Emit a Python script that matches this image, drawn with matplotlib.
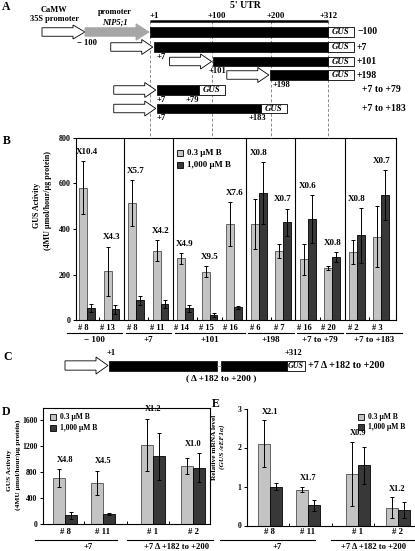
import numpy as np
import matplotlib
matplotlib.use("Agg")
import matplotlib.pyplot as plt
from matplotlib.patches import Rectangle, Polygon
import matplotlib.transforms as mtransforms

plt.rcParams['font.family'] = ['Liberation Serif', 'DejaVu Serif']
plt.rcParams['font.weight'] = 'bold'
plt.rcParams['axes.linewidth'] = 0.8

# ---------------- data ----------------
legend_labels = ['0.3 \u03bcM B', '1,000 \u03bcM B']

# Panel A constructs (nucleotide positions of the 5' UTR)
a_ruler = [1, 100, 200, 312]
a_names = ['\u2212100', '+7', '+101', '+198', '+7 to +79', '+7 to +183']
a_start = [1, 7, 101, 198, 7, 7]
a_end = [312, 312, 312, 312, 79, 183]

# Panel B
b_lines = ['# 8', '# 13', '# 8', '# 11', '# 14', '# 15', '# 16', '# 6', '# 7', '# 16', '# 20', '# 2', '# 3']
b_groups = ['\u2212 100', '+7', '+101', '+198', '+7 to +79', '+7 to +183']
b_group_sizes = [2, 2, 3, 2, 2, 2]
b_low = [582, 215, 514, 304, 271, 213, 422, 422, 304, 267, 227, 298, 366]
b_low_err = [116, 108, 100, 46, 23, 23, 97, 111, 30, 68, 9, 53, 135]
b_high = [52, 48, 86, 70, 52, 22, 55, 560, 430, 444, 276, 372, 548]
b_high_err = [18, 20, 21, 17, 15, 10, 8, 136, 60, 106, 22, 120, 110]
b_ratio = ['X10.4', 'X4.3', 'X5.7', 'X4.2', 'X4.9', 'X9.5', 'X7.6', 'X0.8', 'X0.7', 'X0.6', 'X0.8', 'X0.8', 'X0.7']
b_yticks = [0, 200, 400, 600, 800]

# Panels D / E
de_lines = ['# 8', '# 11', '# 1', '# 2']
de_groups = ['+7', '+7 \u0394 +182 to +200']
d_low = [705, 635, 1220, 895]
d_low_err = [140, 190, 405, 127]
d_high = [135, 150, 1045, 870]
d_high_err = [55, 15, 365, 220]
d_ratio = ['X4.8', 'X4.5', 'X1.2', 'X1.0']
d_yticks = [0, 400, 800, 1200, 1600]

e_low = [2.1, 0.92, 1.32, 0.46]
e_low_err = [0.6, 0.07, 0.82, 0.26]
e_high = [1.0, 0.52, 1.54, 0.39]
e_high_err = [0.09, 0.14, 0.47, 0.2]
e_ratio = ['X2.1', 'X1.7', 'X0.9', 'X1.2']
e_yticks = [0, 1, 2, 3]

GRAY = '#c3c3c3'
DARK = '#383838'

# ---------------- figure ----------------
W, H = 415, 551
fig = plt.figure(figsize=(W / 100, H / 100), dpi=100)


def add_ax(x0, y0, x1, y1):
    return fig.add_axes([x0 / W, 1 - y1 / H, (x1 - x0) / W, (y1 - y0) / H])


ov = fig.add_axes([0, 0, 1, 1])
ov.set_xlim(0, W)
ov.set_ylim(H, 0)
ov.axis('off')
ov.set_zorder(5)
ov.patch.set_alpha(0)


def arrow(x0, x1, yc, bh, hh, hl, fc, ec='black', lw=0.6):
    pts = [(x0, yc - bh / 2), (x1 - hl, yc - bh / 2), (x1 - hl, yc - hh / 2), (x1, yc),
           (x1 - hl, yc + hh / 2), (x1 - hl, yc + bh / 2), (x0, yc + bh / 2)]
    ov.add_patch(Polygon(pts, closed=True, fc=fc, ec=ec, lw=lw, joinstyle='miter'))


def gus_box(x0, w, yc, h, fs):
    ov.add_patch(Rectangle((x0, yc - h / 2), w, h, fc='white', ec='black', lw=0.6))
    ov.text(x0 + w / 2, yc + 0.3, 'GUS', ha='center', va='center', fontsize=fs, style='italic')


def nt2px(v):
    return np.interp(v, a_ruler, [150, 212, 271, 328])


# ---------------- Panel A ----------------
ov.text(6, 7, 'A', ha='center', va='center', fontsize=8.5)
ov.text(245, 5, "5' UTR", ha='center', va='center', fontsize=7)
ov.text(54, 10, 'CaMW', ha='center', va='center', fontsize=6)
ov.text(54, 19, '35S promoter', ha='center', va='center', fontsize=6)
ov.text(115, 12, 'promoter', ha='center', va='center', fontsize=6)
ov.text(115, 22.5, 'NIP5;1', ha='center', va='center', fontsize=6, style='italic')

rx = nt2px(a_ruler)
ov.plot([rx[0], rx[-1]], [21, 21], color='black', lw=1.8, solid_capstyle='butt')
for x, v, dx in zip(rx, a_ruler, [4, 5, 5, 1]):
    ov.text(x + dx, 15.5, '+%d' % v, ha='center', va='center', fontsize=6.3)
    ov.plot([x, x], [21, 138], color='#8a8a8a', lw=0.7, dashes=(3, 2), zorder=0)

row_y = [32, 47, 61.5, 75, 90, 108.5]
bar_h = 9.5
for i, (nm, s, e, yc) in enumerate(zip(a_names, a_start, a_end, row_y)):
    x0 = nt2px(s) + (3 if i >= 4 else 0)
    x1 = nt2px(e)
    if i == 0:
        arrow(42, 85, yc, 8.5, 14, 12, 'white')
        arrow(85, x0 - 1, yc, 8.5, 16.5, 13, '#a6a6a6', ec='#a6a6a6')
    else:
        arrow(x0 - 43, x0 - 1, yc, 8.5, 15, 11, 'white')
    ov.add_patch(Rectangle((x0, yc - bar_h / 2), x1 - x0, bar_h, fc='black', ec='black', lw=0.5))
    gus_box(x1, 26, yc, bar_h, 6.3)
    ov.text(357 if i < 4 else 362, yc, nm, ha='left', va='center', fontsize=7)

# position markers under the rows
mk = 6.2
ov.text(87, 43, '\u2212 100', ha='center', va='center', fontsize=mk)
ov.text(161, 57, '+7', ha='center', va='center', fontsize=mk)
ov.text(217, 71, '+101', ha='center', va='center', fontsize=mk)
ov.text(281, 85, '+198', ha='center', va='center', fontsize=mk)
ov.text(161, 100, '+7', ha='center', va='center', fontsize=mk)
ov.text(192, 100, '+79', ha='center', va='center', fontsize=mk)
ov.text(161, 118, '+7', ha='center', va='center', fontsize=mk)
ov.text(257, 118, '+183', ha='center', va='center', fontsize=mk)

ek = dict(elinewidth=0.7, capsize=1.6, capthick=0.7, ecolor='black')


def draw_bars(ax, pos, low, lerr, high, herr, bw):
    ax.bar(pos - bw / 2, low, bw, yerr=lerr, color=GRAY, edgecolor='#505050', linewidth=0.6,
           error_kw=ek, zorder=2)
    ax.bar(pos + bw / 2, high, bw, yerr=herr, color=DARK, edgecolor='black', linewidth=0.6,
           error_kw=ek, zorder=2)


def legend(x, y1, y2, fs):
    for yc, col, lab in zip((y1, y2), (GRAY, DARK), legend_labels):
        ov.add_patch(Rectangle((x, yc - 3.2), 6.4, 6.4, fc=col, ec='black', lw=0.6))
        ov.text(x + 10, yc, lab, ha='left', va='center', fontsize=fs)


# ---------------- Panel B ----------------
ov.text(7, 141, 'B', ha='center', va='center', fontsize=8.5)
axB = add_ax(76, 138, 396, 320)
xs = np.arange(len(b_lines), dtype=float)
draw_bars(axB, xs, b_low, b_low_err, b_high, b_high_err, 0.32)
axB.set_xlim(-0.45, 12.6)
axB.set_ylim(0, 800)
axB.set_yticks(b_yticks)
axB.tick_params(axis='y', direction='out', length=2.5, width=0.7, labelsize=5.8, pad=1.5)
edges = np.concatenate([[-0.5], np.cumsum(b_group_sizes) - 0.5])
for b in edges[1:-1]:
    axB.axvline(b, color='black', lw=0.8, zorder=3)
inner = [i + 0.5 for i in range(len(b_lines) - 1) if (i + 0.5) not in edges]
axB.set_xticks(inner)
axB.tick_params(axis='x', direction='in', length=2.5, width=0.7, labelbottom=False)
topsB = np.maximum(np.add(b_low, b_low_err), np.add(b_high, b_high_err))
for x, t, r in zip(xs, topsB, b_ratio):
    axB.text(x, t + 40, r, ha='center', va='center', fontsize=6.5)
legend(177, 153, 165, 6.3)
ov.text(37, 205, 'GUS Activity', rotation=90, ha='center', va='center', fontsize=5.8)
ov.text(48, 200, '(4MU \u03bcmol/hour/\u03bcg protein)', rotation=90, ha='center', va='center', fontsize=5.8)

tB = mtransforms.blended_transform_factory(axB.transData, ov.transData)
for x, lab in zip(xs, b_lines):
    ov.text(x - 0.15, 327.5, lab, transform=tB, ha='center', va='center', fontsize=6)
for i, g in enumerate(b_groups):
    a = edges[i] + 0.07 if i > 0 else -0.8
    b = edges[i + 1] - 0.07 if i < len(b_groups) - 1 else 12.85
    ov.plot([a, b], [333.3, 333.3], color='black', lw=0.8, transform=tB)
    ov.text((a + b) / 2, 340.5, g, transform=tB, ha='center', va='center', fontsize=6.5)

# ---------------- Panel C ----------------
ov.text(8, 357, 'C', ha='center', va='center', fontsize=8.5)
cy = 365.5
arrow(65, 108, cy, 9.3, 17, 12, 'white')
ov.plot([217, 221], [cy, cy], color='#999999', lw=0.6)
ov.add_patch(Rectangle((109, cy - 5), 108, 10, fc='black', ec='black', lw=0.5))
ov.add_patch(Rectangle((221, cy - 5), 66, 10, fc='black', ec='black', lw=0.5))
gus_box(287, 18, cy, 10, 5.8)
ov.text(111, 353, '+1', ha='center', va='center', fontsize=6.2)
ov.text(293, 353, '+312', ha='center', va='center', fontsize=6.2)
ov.text(308, 365, '+7 \u0394 +182 to +200', ha='left', va='center', fontsize=7.3)
ov.text(221, 378.5, '( \u0394 +182 to +200 )', ha='center', va='center', fontsize=6.8)

# ---------------- Panels D and E ----------------
pos = np.array([0.0, 0.95, 2.2, 3.2])
inner_de = [0.47, 1.55, 2.6]

# D
ov.text(6, 412, 'D', ha='center', va='center', fontsize=8.5)
axD = add_ax(43, 408, 210, 524)
draw_bars(axD, pos, d_low, d_low_err, d_high, d_high_err, 0.3)
axD.set_xlim(-0.55, 3.625)
axD.set_ylim(0, 1790)
axD.set_yticks(d_yticks)
axD.tick_params(axis='y', direction='out', length=2.5, width=0.7, labelsize=5.5, pad=1.5)
axD.set_xticks(inner_de)
axD.tick_params(axis='x', direction='in', length=2.5, width=0.7, labelbottom=False)
topsD = np.maximum(np.add(d_low, d_low_err), np.add(d_high, d_high_err))
for x, t, r in zip(pos, topsD, d_ratio):
    axD.text(x, t + 150, r, ha='center', va='center', fontsize=6)
legend(50, 417, 428, 5.5)
ov.text(10, 470, 'GUS Activity', rotation=90, ha='center', va='center', fontsize=5.3)
ov.text(18.5, 465, '(4MU \u03bcmol/hour/\u03bcg protein)', rotation=90, ha='center', va='center', fontsize=5.3)
tD = mtransforms.blended_transform_factory(axD.transData, ov.transData)
for x, lab in zip(pos, de_lines):
    ov.text(x, 532, lab, transform=tD, ha='center', va='center', fontsize=6.3)
ov.plot([35, 117], [540, 540], color='black', lw=0.8)
ov.plot([127, 213], [540, 540], color='black', lw=0.8)
ov.text(88, 547, de_groups[0], ha='center', va='center', fontsize=6.2)
ov.text(177, 547, de_groups[1], ha='center', va='center', fontsize=6.2)

# E
ov.text(216, 404, 'E', ha='center', va='center', fontsize=8.5)
axE = add_ax(247, 408.5, 414.5, 525.5)
draw_bars(axE, pos, e_low, e_low_err, e_high, e_high_err, 0.3)
axE.set_xlim(-0.575, 3.625)
axE.set_ylim(0, 3)
axE.set_yticks(e_yticks)
for s in ('top', 'right'):
    axE.spines[s].set_visible(False)
axE.tick_params(axis='y', direction='out', length=2.5, width=0.7, labelsize=5.5, pad=1.5)
axE.set_xticks(inner_de)
axE.tick_params(axis='x', direction='in', length=2.5, width=0.7, labelbottom=False)
topsE = np.maximum(np.add(e_low, e_low_err), np.add(e_high, e_high_err))
for x, t, r in zip(pos, topsE, e_ratio):
    axE.text(x, t + 0.22, r, ha='center', va='center', fontsize=6)
legend(358, 417, 427, 5.5)
ov.text(214, 447, 'Relative mRNA level', rotation=90, ha='center', va='center', fontsize=5.3)
ov.text(222.5, 447, '(GUS /eEF1\u03b1)', rotation=90, ha='center', va='center', fontsize=5.3, style='italic')
tE = mtransforms.blended_transform_factory(axE.transData, ov.transData)
for x, lab in zip(pos, de_lines):
    ov.text(x, 532, lab, transform=tE, ha='center', va='center', fontsize=6.3)
ov.plot([220, 315], [540, 540], color='black', lw=0.8)
ov.plot([331, 415], [540, 540], color='black', lw=0.8)
ov.text(277, 547, de_groups[0], ha='center', va='center', fontsize=6.2)
ov.text(374, 547, de_groups[1], ha='center', va='center', fontsize=6.2)

fig.savefig('out.png', dpi=100)
